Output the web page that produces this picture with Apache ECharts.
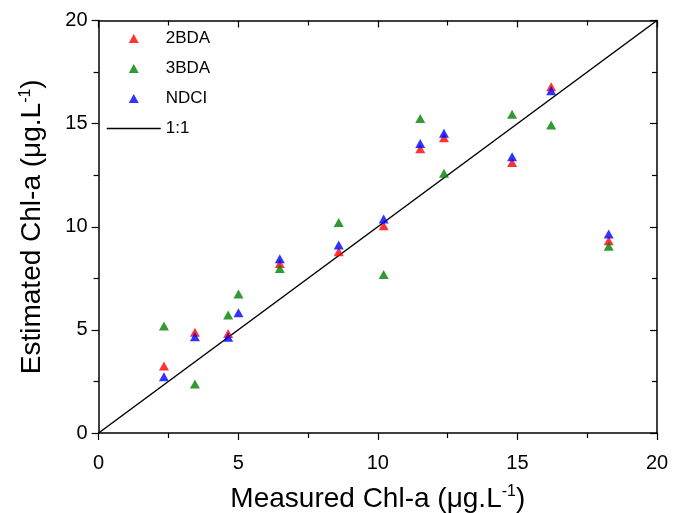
<!DOCTYPE html>
<html>
<head>
<meta charset="utf-8">
<script src="https://cdn.jsdelivr.net/npm/echarts@6/dist/echarts.min.js"></script>
<style>html,body{margin:0;padding:0;background:#fff}#c{width:673px;height:513px}</style>
</head>
<body>
<div id="c"></div>
<script>
const measured = [2.34, 3.45, 4.64, 5.01, 6.49, 8.6, 10.21, 11.52, 12.37, 14.81, 16.21, 18.27];
const est2BDA = [3.25, 4.88, 4.83, null, 8.22, 8.79, 10.05, 13.78, 14.31, 13.12, 16.79, 9.32];
const est3BDA = [5.19, 2.37, 5.72, 6.74, 7.98, 10.21, 7.69, 15.25, 12.59, 15.46, 14.93, 9.06];
const estNDCI = [2.73, 4.67, 4.64, 5.83, 8.45, 9.11, 10.37, 14.04, 14.53, 13.39, 16.59, 9.65];
const oneToOne = [[0, 0], [20, 20]];
const seriesNames = ['2BDA', '3BDA', 'NDCI', '1:1'];
const colors = ['#ff0000', '#008000', '#0000ff'];

function pairs(xs, ys) {
  const out = [];
  for (let i = 0; i < xs.length; i++) if (ys[i] != null) out.push([xs[i], ys[i]]);
  return out;
}

const font = 'Liberation Sans, Arial, sans-serif';
const axisCommon = {
  min: 0, max: 20, interval: 5,
  axisLine: { show: true, onZero: false, lineStyle: { color: '#000', width: 1.5 } },
  splitLine: { show: false },
  minorTick: { show: true, splitNumber: 2, length: 5, lineStyle: { color: '#000', width: 1.2 } },
  axisTick: { show: true, length: 7, lineStyle: { color: '#000', width: 1.2 } }
};
const supStyle = { fontFamily: font, fontSize: 16, verticalAlign: 'top', padding: [0, 0, 14, 0], color: '#000' };
// legend icon: a 10x9 triangle centred in a 54x9 box (invisible corner points set the box)
const legendTriangle = 'path://M0,0L0,0M54,9L54,9M27,0L32,9L22,9Z';

const chart = echarts.init(document.getElementById('c'), null, { renderer: 'canvas' });
chart.setOption({
  backgroundColor: '#fff',
  animation: false,
  grid: { left: 98.6, right: 16, top: 20.5, bottom: 80, containLabel: false, outerBoundsMode: 'none' },
  legend: {
    data: [
      { name: seriesNames[0], icon: legendTriangle },
      { name: seriesNames[1], icon: legendTriangle },
      { name: seriesNames[2], icon: legendTriangle },
      { name: seriesNames[3], itemStyle: { color: 'rgba(0,0,0,0)', borderColor: 'rgba(0,0,0,0)', borderWidth: 0 }, lineStyle: { color: '#000', width: 1.5 } }
    ],
    orient: 'vertical',
    left: 101, top: 25,
    itemWidth: 54, itemHeight: 9, itemGap: 13,
    textStyle: { fontFamily: font, fontSize: 17, color: '#000' }
  },
  xAxis: [
    Object.assign({}, axisCommon, {
      type: 'value', position: 'bottom',
      axisTick: Object.assign({}, axisCommon.axisTick, { inside: false }),
      minorTick: Object.assign({}, axisCommon.minorTick, { inside: false }),
      axisLabel: { fontFamily: font, fontSize: 20, color: '#000', margin: 20 },
      name: 'Measured Chl-a (μg.L{sup|-1})',
      nameLocation: 'middle', nameGap: 51,
      nameTextStyle: { fontFamily: font, fontSize: 28, color: '#000', rich: { sup: supStyle } }
    }),
    Object.assign({}, axisCommon, {
      type: 'value', position: 'top',
      axisTick: Object.assign({}, axisCommon.axisTick, { inside: true }),
      axisLabel: { show: false }
    })
  ],
  yAxis: [
    Object.assign({}, axisCommon, {
      type: 'value', position: 'left',
      axisLabel: { fontFamily: font, fontSize: 20, color: '#000', margin: 11 },
      name: 'Estimated Chl-a (μg.L{sup|-1})',
      nameLocation: 'middle', nameGap: 51,
      nameTextStyle: { fontFamily: font, fontSize: 28, color: '#000', rich: { sup: supStyle } }
    }),
    Object.assign({}, axisCommon, {
      type: 'value', position: 'right',
      axisTick: Object.assign({}, axisCommon.axisTick, { inside: true }),
      axisLabel: { show: false }
    })
  ],
  series: [
    { name: seriesNames[0], type: 'scatter', symbol: 'triangle', symbolSize: [10, 9], itemStyle: { color: colors[0] }, data: pairs(measured, est2BDA), z: 3 },
    { name: seriesNames[1], type: 'scatter', symbol: 'triangle', symbolSize: [10, 9], itemStyle: { color: colors[1] }, data: pairs(measured, est3BDA), z: 3 },
    { name: seriesNames[2], type: 'scatter', symbol: 'triangle', symbolSize: [10, 9], itemStyle: { color: colors[2] }, data: pairs(measured, estNDCI), z: 3 },
    { name: seriesNames[3], type: 'line', symbol: 'none', lineStyle: { color: '#000', width: 1.5 }, itemStyle: { color: '#000' }, data: oneToOne, z: 2 }
  ]
});
</script>
</body>
</html>
